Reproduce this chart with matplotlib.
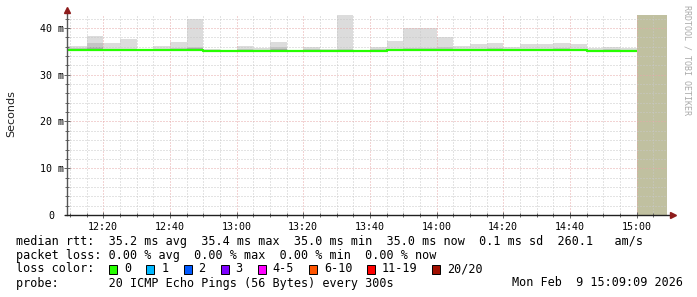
import numpy as np
import matplotlib
matplotlib.use('Agg')
import matplotlib.pyplot as plt
from matplotlib.patches import Rectangle
from matplotlib.ticker import MultipleLocator, FuncFormatter

# 5 minute bins (start time), round trip times in ms
times = ['12:10', '12:15', '12:20', '12:25', '12:30', '12:35', '12:40', '12:45',
         '12:50', '12:55', '13:00', '13:05', '13:10', '13:15', '13:20', '13:25',
         '13:30', '13:35', '13:40', '13:45', '13:50', '13:55', '14:00', '14:05',
         '14:10', '14:15', '14:20', '14:25', '14:30', '14:35', '14:40', '14:45',
         '14:50', '14:55']
rtt_median = [35.2, 35.2, 35.2, 35.2, 35.2, 35.2, 35.2, 35.4,
              35.0, 35.0, 35.0, 35.0, 35.0, 35.0, 35.0, 35.0,
              35.0, 35.0, 35.0, 35.2, 35.2, 35.2, 35.2, 35.2,
              35.2, 35.4, 35.2, 35.2, 35.2, 35.2, 35.2, 35.0,
              35.0, 35.0]
rtt_min = [35.0, 35.0, 35.0, 35.0, 35.0, 35.0, 35.0, 35.2,
           34.9, 34.9, 34.9, 34.9, 34.9, 34.9, 34.9, 34.9,
           34.9, 34.9, 34.9, 35.0, 35.0, 35.0, 35.0, 35.0,
           35.0, 35.2, 35.0, 35.0, 35.0, 35.0, 35.0, 34.9,
           34.9, 34.9]
rtt_inner = [35.5, 36.0, 35.4, 35.4, 35.3, 35.4, 35.5, 35.7,
             35.2, 35.1, 35.3, 35.2, 35.5, 35.2, 35.3, 35.2,
             35.3, 35.1, 35.3, 35.4, 35.4, 35.5, 35.6, 35.4,
             35.4, 35.6, 35.4, 35.4, 35.4, 35.5, 35.4, 35.2,
             35.3, 35.2]
rtt_mid = [35.7, 36.8, 35.6, 35.5, 35.4, 35.6, 35.8, 36.0,
           35.4, 35.2, 35.6, 35.3, 36.0, 35.3, 35.5, 35.3,
           35.6, 35.2, 35.6, 35.6, 35.7, 35.8, 36.0, 35.6,
           35.6, 35.8, 35.6, 35.6, 35.6, 35.8, 35.6, 35.4,
           35.5, 35.4]
rtt_max = [36.2, 38.3, 36.7, 37.7, 35.6, 36.2, 37.0, 41.9,
           35.6, 35.2, 36.2, 35.7, 37.0, 35.4, 36.0, 35.6,
           43.0, 35.2, 36.0, 37.2, 40.1, 40.1, 38.1, 36.2,
           36.5, 36.7, 36.0, 36.5, 36.5, 36.7, 36.5, 35.8,
           36.0, 35.8]
unknown_from = '15:00'
view_from = '12:09:09'
view_to = '15:09:09'

loss_labels = ['0', '1', '2', '3', '4-5', '6-10', '11-19', '20/20']
loss_colors = ['#26ff00', '#00b8ff', '#0059ff', '#7e00ff', '#ff00ff',
               '#ff5500', '#ff0000', '#a01000']

legend_rtt = 'median rtt:  35.2 ms avg  35.4 ms max  35.0 ms min  35.0 ms now  0.1 ms sd  260.1   am/s'
legend_loss = 'packet loss: 0.00 % avg  0.00 % max  0.00 % min  0.00 % now'
legend_probe = 'probe:       20 ICMP Echo Pings (56 Bytes) every 300s'
stamp = 'Mon Feb  9 15:09:09 2026'


def to_min(s):
    parts = [int(p) for p in s.split(':')]
    while len(parts) < 3:
        parts.append(0)
    return parts[0] * 60 + parts[1] + parts[2] / 60.0


W, H = 697, 297
mono = 'DejaVu Sans Mono'
fig = plt.figure(figsize=(W / 100, H / 100), dpi=100)
ax = fig.add_axes([67 / W, 82 / H, 600 / W, 200 / H])

x0, x1 = to_min(view_from), to_min(view_to)
t = np.array([to_min(s) for s in times])
edges = np.r_[t, t[-1] + 5]
edges[0] = x0


def ext(v):
    v = np.asarray(v, dtype=float)
    return np.r_[v, v[-1]]


ax.fill_between(edges, ext(rtt_min), ext(rtt_max), step='post', color='#dcdcdc', lw=0, zorder=1)
ax.fill_between(edges, ext(rtt_min), ext(rtt_mid), step='post', color='#c4c4c4', lw=0, zorder=1.1)
ax.fill_between(edges, ext(rtt_min), ext(rtt_inner), step='post', color='#a8a8a8', lw=0, zorder=1.2)
ax.plot(edges, ext(rtt_median), drawstyle='steps-post', color=loss_colors[0], lw=1.6, zorder=3,
        solid_capstyle='butt')

ymax = 42.78
ax.add_patch(Rectangle((to_min(unknown_from), 0), x1 - to_min(unknown_from), ymax,
                       facecolor='#c0c0a0', edgecolor='none', zorder=1.3))

ax.set_xlim(x0, x1)
ax.set_ylim(0, ymax)

ax.xaxis.set_major_locator(MultipleLocator(20))
ax.xaxis.set_minor_locator(MultipleLocator(5))
ax.yaxis.set_major_locator(MultipleLocator(10))
ax.yaxis.set_minor_locator(MultipleLocator(2))
ax.xaxis.set_major_formatter(FuncFormatter(lambda v, p: '%02d:%02d' % (int(v) // 60, int(v) % 60)))
ax.yaxis.set_major_formatter(FuncFormatter(lambda v, p: '0' if v == 0 else '%d m' % v))

ax.set_axisbelow(False)
dots = (0, (1, 2))
ax.grid(which='minor', color='#c8c8c8', lw=0.72, linestyle=dots)
ax.grid(which='major', color='#e6a8a8', lw=0.72, linestyle=dots)

for sp in ax.spines.values():
    sp.set_visible(False)
ax.tick_params(which='both', direction='inout', color='#666666', width=0.7)
ax.tick_params(which='major', length=4)
ax.tick_params(which='minor', length=2.5)
ax.tick_params(axis='x', which='major', pad=3, labelsize=7.2)
ax.tick_params(axis='y', which='major', pad=9, labelsize=7.2)
for lab in ax.get_xticklabels() + ax.get_yticklabels():
    lab.set_family(mono)
for lab in ax.get_yticklabels():
    lab.set_horizontalalignment('center')

# axis lines with arrows
ax.plot([0, 0], [0, 1.025], transform=ax.transAxes, color='#555555', lw=1.0, clip_on=False, zorder=4)
ax.plot([-0.003, 1.008], [0, 0], transform=ax.transAxes, color='#202020', lw=1.0, clip_on=False, zorder=4)
ax.plot([0], [1.025], marker='^', ms=5, color='#8e1c1c', transform=ax.transAxes, clip_on=False, zorder=5)
ax.plot([1.01], [0], marker='>', ms=5, color='#8e1c1c', transform=ax.transAxes, clip_on=False, zorder=5)

fig.text(11 / W, 1 - 114 / H, 'Seconds', rotation=90, ha='center', va='center',
         fontsize=8, family='DejaVu Sans', color='#202020')
fig.text(687 / W, 1 - 5 / H, 'RRDTOOL / TOBI OETIKER', rotation=270, ha='center', va='top',
         fontsize=6, family=mono, color='#aaaaaa')

fs = 8.45
cw = 7.06
fig.text(16 / W, 1 - 241 / H, legend_rtt, ha='left', va='center', fontsize=fs, family=mono)
fig.text(16 / W, 1 - 255 / H, legend_loss, ha='left', va='center', fontsize=fs, family=mono)
fig.text(16 / W, 1 - 269 / H, 'loss color:', ha='left', va='center', fontsize=fs, family=mono)
bx = 109.4
for lab, col in zip(loss_labels, loss_colors):
    fig.patches.append(Rectangle((bx / W, 1 - 273.5 / H), 8 / W, 8.5 / H, transform=fig.transFigure,
                                 facecolor=col, edgecolor='black', lw=0.7))
    fig.text((bx + 15) / W, 1 - 269 / H, lab, ha='left', va='center', fontsize=fs, family=mono)
    bx += 15 + cw * len(lab) + 15
fig.text(16 / W, 1 - 283 / H, legend_probe, ha='left', va='center', fontsize=fs, family=mono)
fig.text(683 / W, 1 - 283 / H, stamp, ha='right', va='center', fontsize=fs, family=mono)

fig.savefig('out.png', dpi=100)
